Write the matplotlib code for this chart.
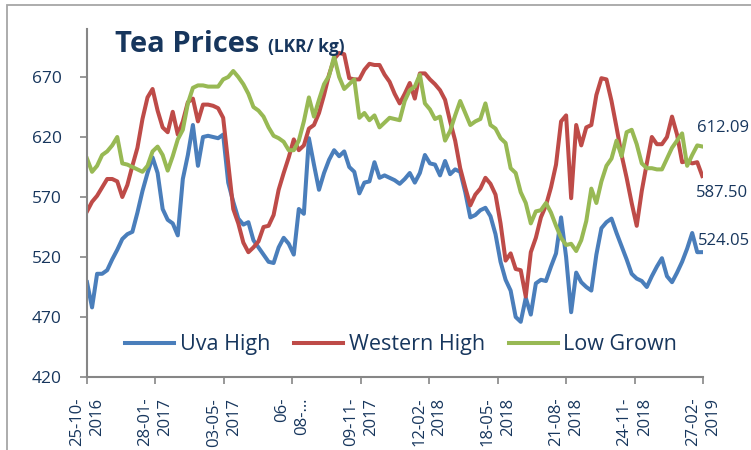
import matplotlib
matplotlib.use("Agg")
import matplotlib.pyplot as plt
import numpy as np
import pandas as pd
from matplotlib.patches import Rectangle

# weekly auction prices, LKR/kg, 25-10-2016 .. 27-02-2019
start_date = "2016-10-25"
n_weeks = 123

uva_high = [
    499, 478, 506, 506, 509, 518, 526, 535, 539, 541,
    557, 575, 590, 603, 590, 560, 551, 548, 538, 585,
    605, 630, 596, 620, 621, 620, 619, 622, 582, 566,
    552, 547, 549, 534, 528, 522, 516, 515, 528, 536,
    531, 522, 560, 556, 619, 597, 576, 590, 601, 609,
    604, 608, 595, 591, 573, 582, 583, 599, 586, 588,
    586, 584, 581, 585, 590, 582, 590, 605, 598, 597,
    588, 600, 589, 593, 591, 574, 553, 555, 559, 561,
    554, 539, 516, 501, 492, 470, 466, 486, 472, 498,
    501, 500, 512, 523, 553, 520, 474, 507, 499, 495,
    492, 522, 544, 549, 552, 540, 529, 518, 506, 502,
    500, 495, 504, 512, 519, 504, 499, 507, 516, 527,
    540, 524, 524.05,
]
western_high = [
    558, 566, 571, 578, 585, 585, 583, 570, 580, 596,
    611, 635, 653, 660, 642, 628, 624, 641, 622, 633,
    649, 652, 633, 647, 647, 646, 644, 636, 598, 560,
    548, 532, 524, 528, 533, 545, 546, 555, 576, 590,
    603, 618, 609, 613, 627, 630, 640, 655, 672, 685,
    690, 689, 669, 668, 668, 676, 681, 680, 680, 672,
    666, 656, 648, 656, 665, 652, 673, 673, 668, 664,
    659, 651, 633, 617, 594, 578, 563, 572, 577, 586,
    581, 572, 548, 517, 523, 510, 509, 487, 524, 536,
    553, 563, 578, 597, 633, 638, 569, 630, 613, 628,
    630, 655, 669, 668, 650, 628, 605, 586, 565, 546,
    575, 598, 620, 614, 614, 620, 637, 622, 599, 600,
    598, 599, 587.50,
]
low_grown = [
    602, 591, 596, 605, 608, 613, 620, 598, 597, 595,
    593, 591, 596, 608, 612, 605, 592, 604, 618, 626,
    648, 661, 663, 663, 662, 662, 662, 668, 670, 675,
    670, 664, 656, 645, 642, 637, 628, 621, 619, 616,
    609, 609, 617, 633, 653, 637, 651, 664, 671, 687,
    670, 660, 664, 668, 636, 640, 634, 638, 628, 632,
    636, 635, 634, 650, 659, 662, 672, 648, 643, 635,
    637, 617, 625, 638, 650, 640, 630, 633, 635, 648,
    630, 627, 619, 615, 594, 590, 574, 565, 548, 558,
    559, 565, 557, 546, 536, 530, 531, 525, 534, 550,
    577, 565, 583, 596, 602, 617, 604, 624, 626, 614,
    598, 594, 594, 593, 593, 602, 611, 617, 623, 596,
    605, 613, 612.09,
]

series_names = ["Uva High", "Western High", "Low Grown"]
series_colors = ["#4A7EBB", "#BE4B48", "#98B954"]

tick_labels = ["25-10-\n2016", "28-01-\n2017", "03-05-\n2017", "06-\n08-\u2026",
               "09-11-\n2017", "12-02-\n2018", "18-05-\n2018", "21-08-\n2018",
               "24-11-\n2018", "27-02-\n2019"]
tick_dates = ["2016-10-25", "2017-01-28", "2017-05-03", "2017-08-06",
              "2017-11-09", "2018-02-12", "2018-05-18", "2018-08-21",
              "2018-11-24", "2019-02-27"]

navy = "#17365D"
plt.rcParams["font.family"] = ["Open Sans", "DejaVu Sans"]

dates = pd.date_range(start_date, periods=n_weeks, freq="7D")

fig = plt.figure(figsize=(7.51, 4.5), dpi=100)
ax = fig.add_axes([87 / 751, 1 - 377 / 450, 616 / 751, 348 / 450])

for name, vals, col in zip(series_names, [uva_high, western_high, low_grown],
                           series_colors):
    ax.plot(dates, vals, color=col, lw=2.9, label=name, solid_joinstyle="round")

ax.set_xlim(pd.Timestamp(tick_dates[0]), pd.Timestamp(tick_dates[-1]))
ax.set_ylim(420, 710)
ax.set_yticks(np.arange(420, 671, 50))
ax.set_xticks([pd.Timestamp(d) for d in tick_dates])
ax.set_xticklabels(tick_labels, rotation=90, fontsize=12, color=navy,
                   linespacing=1.35, multialignment="right")
ax.tick_params(axis="y", labelsize=12.5, labelcolor=navy, length=5,
               width=1.2, color="#868686", pad=13)
ax.tick_params(axis="x", length=5, width=1.2, color="#868686", pad=10)

for s in ["top", "right"]:
    ax.spines[s].set_visible(False)
for s in ["left", "bottom"]:
    ax.spines[s].set_color("#868686")
    ax.spines[s].set_linewidth(1.5)

# end-of-series value labels
offsets = [(-4, 11), (-6, -17), (-5, 18)]
for vals, (dx, dy) in zip([uva_high, western_high, low_grown], offsets):
    ax.annotate(f"{vals[-1]:.2f}", xy=(dates[-1], vals[-1]), xytext=(dx, dy),
                textcoords="offset pixels", fontsize=12, color=navy,
                ha="left", va="center", annotation_clip=False)

ax.legend(loc="center", bbox_to_anchor=(0.51, 0.092), ncol=3, frameon=False,
          fontsize=15.5, handlelength=2.3, handletextpad=0.25,
          columnspacing=1.1, labelcolor=navy)

fig.text(115 / 751, 1 - 52 / 450, "Tea Prices", fontsize=21,
         fontweight="bold", color=navy, va="baseline", ha="left")
fig.text(268 / 751, 1 - 52 / 450, "(LKR/ kg)", fontsize=12.5,
         fontweight="bold", color=navy, va="baseline", ha="left")

# outer chart border
fig.patches.append(Rectangle((7 / 751, -0.1), 1.2, 1 - 5 / 450 + 0.1,
                             transform=fig.transFigure, fill=False,
                             edgecolor="#A6A6A6", lw=1.3))

fig.savefig("out.png", dpi=100)
